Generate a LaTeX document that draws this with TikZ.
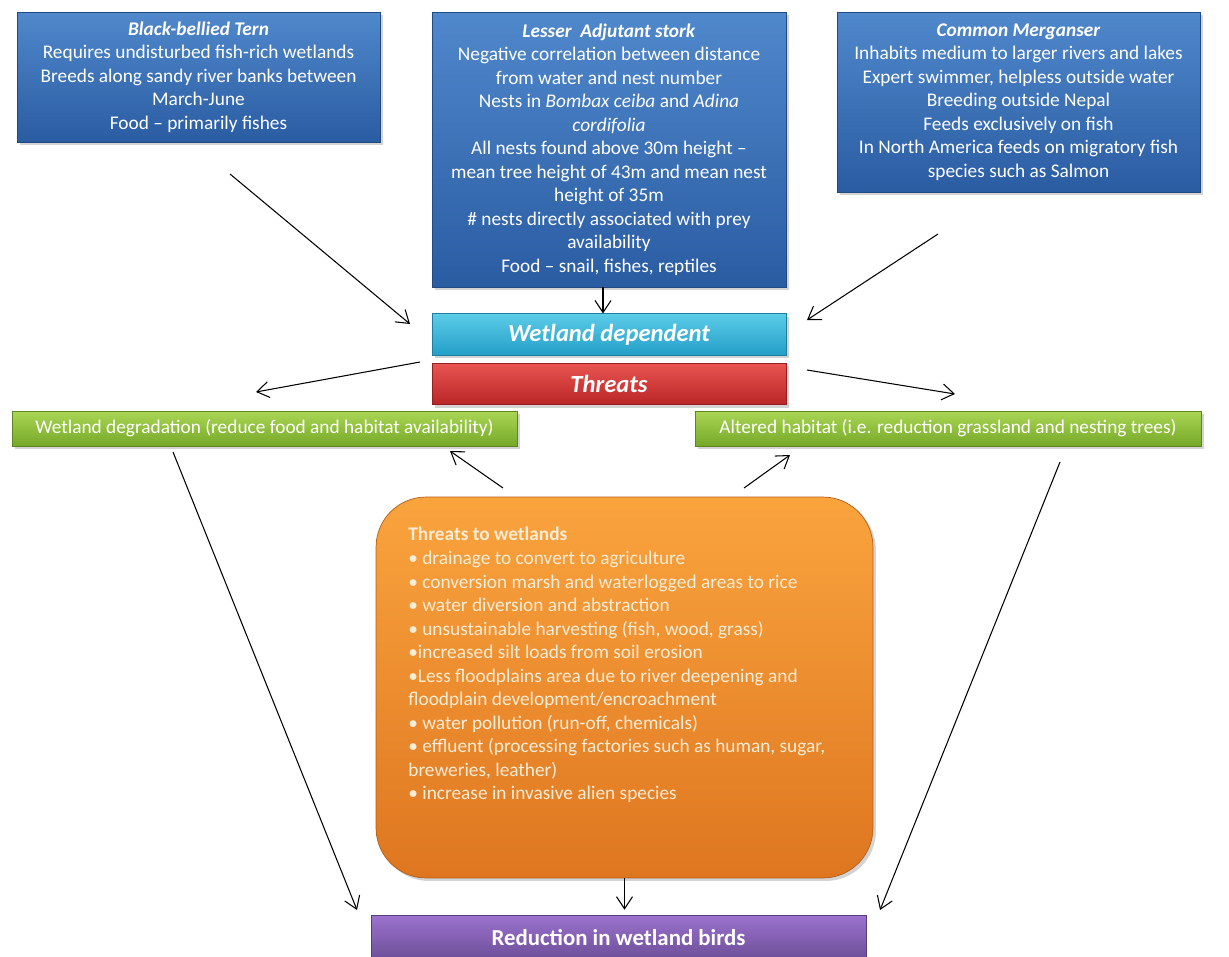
\documentclass[tikz,border=0pt]{standalone}
\usepackage{fontspec}
\setmainfont{Carlito}
\usetikzlibrary{arrows.meta, positioning, shadows}

\definecolor{birdtop}{RGB}{80,136,204}
\definecolor{birdbot}{RGB}{42,92,162}
\definecolor{deptop}{RGB}{92,204,232}
\definecolor{depbot}{RGB}{36,158,200}
\definecolor{threattop}{RGB}{232,84,80}
\definecolor{threatbot}{RGB}{186,38,38}
\definecolor{effecttop}{RGB}{170,214,84}
\definecolor{effectbot}{RGB}{118,168,40}
\definecolor{wettop}{RGB}{250,164,62}
\definecolor{wetbot}{RGB}{222,118,32}
\definecolor{wettext}{RGB}{252,236,214}
\definecolor{losstop}{RGB}{156,114,206}
\definecolor{lossbot}{RGB}{108,78,152}

\begin{document}
\begin{tikzpicture}[
        x=0.02cm, y=-0.02cm,
        birdbox/.style={
            rectangle,
            draw=birdbot!80!black,
            top color=birdtop,
            bottom color=birdbot,
            drop shadow={shadow xshift=0.06cm, shadow yshift=-0.06cm, opacity=0.35},
            text=white,
            align=center,
            inner sep=0pt,
            font=\fontsize{11}{13.4}\selectfont
        },
        barbox/.style={
            rectangle,
            minimum width=7.08cm,
            minimum height=0.83cm,
            inner sep=0pt,
            drop shadow={shadow xshift=0.06cm, shadow yshift=-0.06cm, opacity=0.35},
            text=white,
            font=\fontsize{14}{16}\selectfont\bfseries\itshape
        },
        effectbox/.style={
            rectangle,
            draw=effectbot!80!black,
            top color=effecttop,
            bottom color=effectbot,
            minimum height=0.7cm,
            inner sep=0pt,
            drop shadow={shadow xshift=0.06cm, shadow yshift=-0.06cm, opacity=0.35},
            text=white,
            font=\fontsize{11}{13.4}\selectfont
        },
        wetbox/.style={
            rectangle,
            rounded corners=1cm,
            draw=wetbot!80!black,
            top color=wettop,
            bottom color=wetbot,
            minimum width=9.94cm,
            minimum height=7.62cm,
            drop shadow={shadow xshift=0.06cm, shadow yshift=-0.06cm, opacity=0.35}
        },
        arrow/.style={-{Straight Barb[length=2.4mm, width=3.2mm]}, semithick, draw=black}
    ]

    \useasboundingbox (0,0) rectangle (1229,956);

    % species boxes
    \node (tern) [birdbox, minimum width=7.26cm, minimum height=2.6cm] at (198.5,77) {%
        \textbf{\textit{Black-bellied Tern}}\\
        Requires undisturbed fish-rich wetlands\\
        Breeds along sandy river banks between\\
        March-June\\
        Food -- primarily fishes};
    \node (stork) [birdbox, minimum width=7.08cm, minimum height=5.5cm] at (609,149.5) {%
        \textbf{\textit{Lesser\ \ Adjutant stork}}\\
        Negative correlation between distance\\
        from water and nest number\\
        Nests in \textit{Bombax ceiba} and \textit{Adina}\\
        \textit{cordifolia}\\
        All nests found above 30m height --\\
        mean tree height of 43m and mean nest\\
        height of 35m\\
        \# nests directly associated with prey\\
        availability\\
        Food -- snail, fishes, reptiles};
    \node (merg) [birdbox, minimum width=7.26cm, minimum height=3.6cm] at (1018.5,102) {%
        \textbf{\textit{Common Merganser}}\\
        Inhabits medium to larger rivers and lakes\\
        Expert swimmer, helpless outside water\\
        Breeding outside Nepal\\
        Feeds exclusively on fish\\
        In North America feeds on migratory fish\\
        species such as Salmon};

    % central bars
    \node (wetdep) [barbox, draw=depbot!80!black, top color=deptop, bottom color=depbot] at (609,334.5) {Wetland dependent};
    \node (threats) [barbox, draw=threatbot!80!black, top color=threattop, bottom color=threatbot] at (609,384) {Threats};

    % effects
    \node (degrade) [effectbox, minimum width=10.1cm] at (264.5,428.5) {Wetland degradation (reduce food and habitat availability)};
    \node (altered) [effectbox, minimum width=10.12cm] at (948,428.5) {Altered habitat (i.e. reduction grassland and nesting trees)};

    % threats to wetlands
    \node (wthreat) [wetbox] at (624.5,687.5) {};
    \node (wlist) [anchor=north west, inner sep=0pt, align=left, text=wettext,
        font=\fontsize{11}{13.4}\selectfont] at (408,527) {%
        \textbf{Threats to wetlands}\\
        • drainage to convert to agriculture\\
        • conversion marsh and waterlogged areas to rice\\
        • water diversion and abstraction\\
        • unsustainable harvesting (fish, wood, grass)\\
        •increased silt loads from soil erosion\\
        •Less floodplains area due to river deepening and\\
        floodplain development/encroachment\\
        • water pollution (run-off, chemicals)\\
        • effluent (processing factories such as human, sugar,\\
        breweries, leather)\\
        • increase in invasive alien species};

    % outcome
    \node (loss) [rectangle, draw=lossbot!80!black, top color=losstop, bottom color=lossbot,
        minimum width=9.9cm, minimum height=0.9cm, inner sep=0pt, text=white,
        font=\fontsize{13}{15}\selectfont\bfseries] at (618.5,937.5) {Reduction in wetland birds};

    % loose arrow ends
    \coordinate (ternout) at (230,174);
    \coordinate (ternin) at (410,324);
    \coordinate (mergout) at (938,234);
    \coordinate (mergin) at (807,320);
    \coordinate (thrleft) at (420,362);
    \coordinate (degin) at (256,392);
    \coordinate (thrright) at (807,370);
    \coordinate (altin) at (955,394);
    \coordinate (wleft) at (503,488);
    \coordinate (degup) at (450,451);
    \coordinate (wright) at (744,488);
    \coordinate (altup) at (790,455);
    \coordinate (degout) at (173,452);
    \coordinate (lossleft) at (357,910);
    \coordinate (altout) at (1060,462);
    \coordinate (lossright) at (880,910);

    \draw [arrow] (ternout) -- (ternin);
    \draw [arrow] (stork.south -| 603,0) -- (wetdep.north -| 603,0);
    \draw [arrow] (mergout) -- (mergin);
    \draw [arrow] (thrleft) -- (degin);
    \draw [arrow] (thrright) -- (altin);
    \draw [arrow] (wleft) -- (degup);
    \draw [arrow] (wright) -- (altup);
    \draw [arrow] (degout) -- (lossleft);
    \draw [arrow] (altout) -- (lossright);
    \draw [arrow, shorten >=0.1cm] (wthreat.south) -- (wthreat.south |- loss.north);

\end{tikzpicture}
\end{document}
